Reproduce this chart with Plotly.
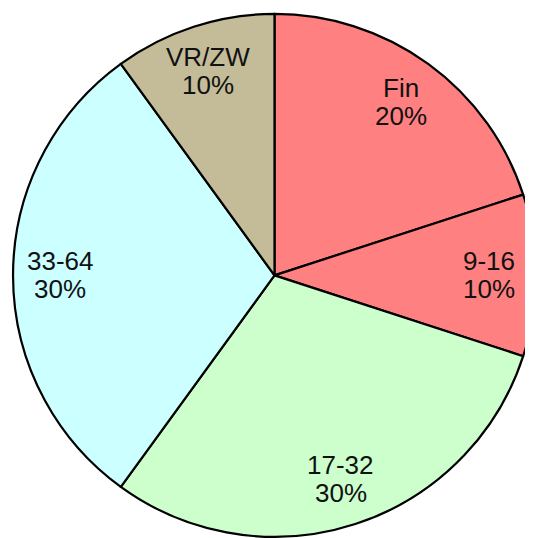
import numpy as np
import plotly.graph_objects as go

labels = ["Fin", "9-16", "17-32", "33-64", "VR/ZW"]
values = [20, 10, 30, 30, 10]
colors = ["#FF8080", "#FF8080", "#CCFFCC", "#CCFFFF", "#C4BC98"]

W, H = 533, 538
dom_y = [0.017, 0.989]
radius = min(W, H * (dom_y[1] - dom_y[0])) / 2
cy = (dom_y[0] + dom_y[1]) / 2

fig = go.Figure(
    go.Pie(
        labels=labels,
        values=values,
        sort=False,
        direction="clockwise",
        rotation=0,
        marker=dict(colors=colors, line=dict(color="black", width=2.2)),
        textinfo="none",
        hoverinfo="label+percent",
        domain=dict(x=[0, 1], y=dom_y),
    )
)

# labels along each slice's mid angle; two lines drawn separately for tight spacing
vals = np.array(values, dtype=float)
pct = vals / vals.sum()
mid = (np.cumsum(pct) - pct / 2) * 2 * np.pi
r_lab = 0.82 * radius
font = dict(family="Liberation Sans, Arial, sans-serif", size=26, color="#111")
for lab, p, a in zip(labels, pct, mid):
    x = 0.5 + r_lab * np.sin(a) / W
    y = cy + r_lab * np.cos(a) / H
    for txt, shift in [(lab, 14), (f"{p * 100:.0f}%", -14)]:
        fig.add_annotation(
            x=x, y=y, xref="paper", yref="paper",
            text=txt, showarrow=False,
            xanchor="center", yanchor="middle", yshift=shift,
            font=font,
        )

fig.update_layout(
    width=W,
    height=H,
    margin=dict(l=0, r=0, t=0, b=0),
    showlegend=False,
    paper_bgcolor="white",
)

fig.write_html("out.html")
